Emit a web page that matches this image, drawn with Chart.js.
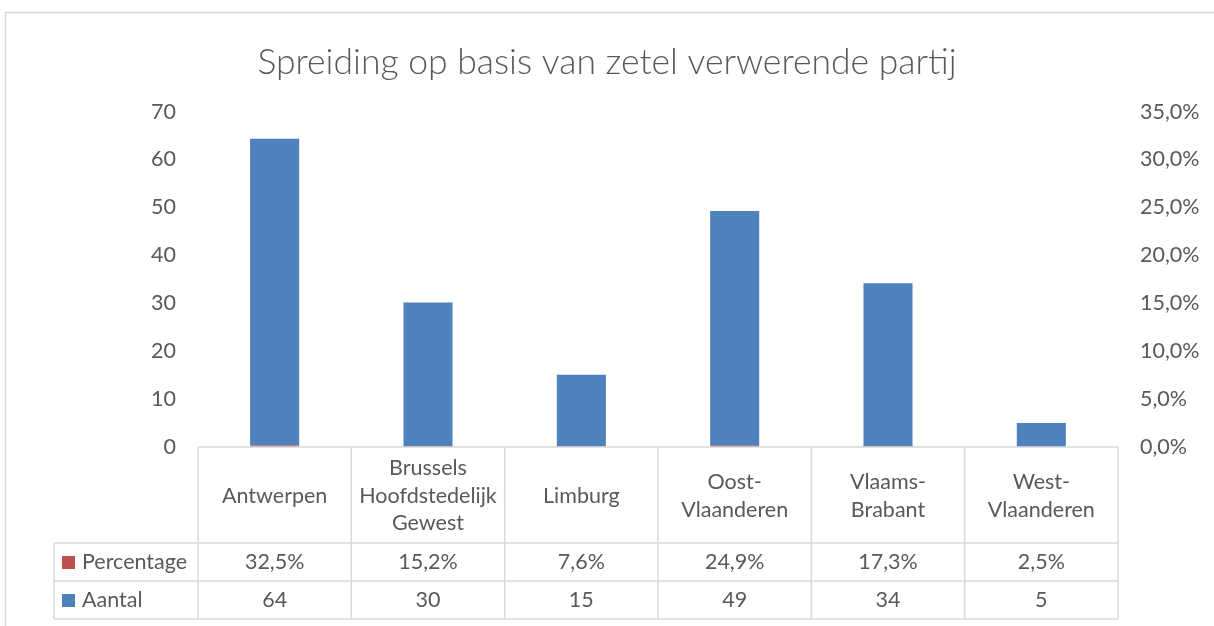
<!DOCTYPE html>
<html><head><meta charset="utf-8">
<script src="https://cdn.jsdelivr.net/npm/chart.js@4"></script>
<style>html,body{margin:0;padding:0;background:#fff;}#wrap{width:1214px;height:626px;}</style>
</head><body><div id="wrap"><canvas id="c" width="1214" height="626"></canvas></div>
<script>
const categories = ['Antwerpen', ['Brussels','Hoofdstedelijk','Gewest'], 'Limburg', ['Oost-','Vlaanderen'], ['Vlaams-','Brabant'], ['West-','Vlaanderen']];
const aantal = [64, 30, 15, 49, 34, 5];
const percentage = [0.325, 0.152, 0.076, 0.249, 0.173, 0.025];
const leftTicks = [0, 10, 20, 30, 40, 50, 60, 70];
const rightTicks = [0, 0.05, 0.10, 0.15, 0.20, 0.25, 0.30, 0.35];
const seriesNames = ['Percentage', 'Aantal'];

const BLUE = '#4F81BD', RED = '#C0504D', TXT = '#595959', LINE = '#d9d9d9';
const FONT = 'Lato, "Open Sans", sans-serif';
const FS = 21.5;
const fmtPct = v => (v * 100).toFixed(1).replace('.', ',') + '%';

const tablePlugin = {
  id: 'dataTable',
  beforeDraw(chart) {
    const ctx = chart.ctx;
    ctx.save();
    ctx.fillStyle = '#fff';
    ctx.fillRect(0, 0, chart.width, chart.height);
    ctx.strokeStyle = LINE; ctx.lineWidth = 1.5;
    ctx.strokeRect(5.5, 12.5, chart.width + 50, chart.height + 50);
    ctx.restore();
  },
  afterDraw(chart) {
    const ctx = chart.ctx, x = chart.scales.x, area = chart.chartArea;
    const n = categories.length, colW = (x.right - x.left) / n;
    const top = area.bottom, hdrB = top + 96, r1 = hdrB + 38, r2 = r1 + 38;
    const legL = x.left - 144;
    ctx.save();
    ctx.strokeStyle = LINE; ctx.lineWidth = 1.5;
    ctx.beginPath();
    ctx.moveTo(x.left, top); ctx.lineTo(x.right, top);
    [hdrB, r1, r2].forEach(y => { ctx.moveTo(legL, y); ctx.lineTo(x.right, y); });
    for (let i = 0; i <= n; i++) { const xx = x.left + i * colW; ctx.moveTo(xx, top); ctx.lineTo(xx, r2); }
    ctx.moveTo(legL, hdrB); ctx.lineTo(legL, r2);
    ctx.stroke();

    ctx.fillStyle = TXT; ctx.font = FS + 'px ' + FONT;
    ctx.textAlign = 'center'; ctx.textBaseline = 'middle';
    const lh = 27.5;
    categories.forEach((lab, i) => {
      const cx = x.getPixelForValue(i);
      const lines = Array.isArray(lab) ? lab : [lab];
      const cy = (top + hdrB) / 2 + 1;
      lines.forEach((t, k) => ctx.fillText(t, cx, cy + (k - (lines.length - 1) / 2) * lh));
      ctx.fillText(fmtPct(percentage[i]), cx, (hdrB + r1) / 2);
      ctx.fillText(String(aantal[i]), cx, (r1 + r2) / 2);
    });
    ctx.textAlign = 'left';
    [[RED, seriesNames[0], (hdrB + r1) / 2], [BLUE, seriesNames[1], (r1 + r2) / 2]].forEach(([c, t, y]) => {
      ctx.fillStyle = c; ctx.fillRect(legL + 8, y - 6, 13, 13);
      ctx.fillStyle = TXT; ctx.fillText(t, legL + 28, y);
    });
    ctx.restore();
  }
};

new Chart(document.getElementById('c'), {
  type: 'bar',
  data: {
    labels: categories,
    datasets: [
      { label: seriesNames[1], data: aantal, backgroundColor: BLUE, yAxisID: 'y', stack: 's', order: 2 },
      { label: seriesNames[0], data: percentage, backgroundColor: RED, yAxisID: 'y', stack: 's', order: 1 }
    ]
  },
  options: {
    responsive: false, animation: false,
    layout: { padding: { left: 0, right: 0, top: 0, bottom: 179 } },
    barPercentage: 0.32, categoryPercentage: 1,
    plugins: {
      legend: { display: false }, tooltip: { enabled: false },
      title: { display: true, text: 'Spreiding op basis van zetel verwerende partij', color: TXT,
        font: { family: FONT, size: 35.5, weight: '300' }, padding: { top: 41, bottom: 28 } }
    },
    scales: {
      x: { stacked: true, display: true, grid: { display: false, drawTicks: false }, border: { display: false },
           ticks: { display: false } },
      y: { stacked: true, position: 'left', min: leftTicks[0], max: leftTicks[leftTicks.length - 1],
           grid: { display: false, drawTicks: false }, border: { display: false },
           afterBuildTicks: s => { s.ticks = leftTicks.map(v => ({ value: v })); },
           afterFit: s => { s.width = 198; },
           ticks: { color: TXT, font: { family: FONT, size: FS }, padding: 22 } },
      y2: { position: 'right', min: rightTicks[0], max: rightTicks[rightTicks.length - 1],
           grid: { display: false, drawTicks: false }, border: { display: false },
           afterBuildTicks: s => { s.ticks = rightTicks.map(v => ({ value: v })); },
           afterFit: s => { s.width = 96; },
           ticks: { color: TXT, font: { family: FONT, size: FS }, padding: 22, callback: v => fmtPct(v) } }
    }
  },
  plugins: [tablePlugin]
});
</script></body></html>
